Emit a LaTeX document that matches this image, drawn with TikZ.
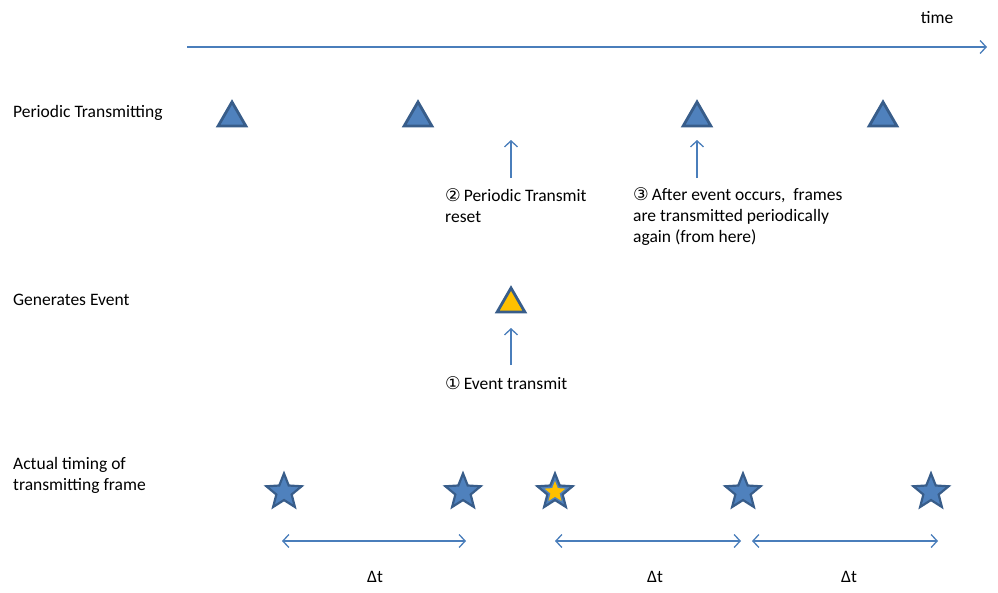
\documentclass[tikz,border=0pt]{standalone}
\usepackage{fontspec}
\setmainfont{Carlito}
\newfontfamily\circfont{DejaVu Sans}
\usetikzlibrary{arrows.meta, shapes.geometric}

\definecolor{triblue}{HTML}{4F81BD}
\definecolor{triedge}{HTML}{385D8A}
\definecolor{evyellow}{HTML}{FFC000}
\definecolor{linecol}{HTML}{4A7EBB}

\begin{document}
\begin{tikzpicture}[x=1pt, y=-1pt,
    every node/.style={font=\fontsize{17.5}{21}\selectfont, inner sep=0pt},
    lbl/.style={anchor=west, align=left},
    tri/.style={regular polygon, regular polygon sides=3, minimum size=32pt, draw=triedge, line width=2.8pt, fill=triblue},
    evtri/.style={tri, fill=evyellow},
    frm/.style={star, star points=5, star point ratio=2.3, minimum size=37pt, draw=triedge, line width=2.2pt, fill=triblue},
    frmcore/.style={star, star points=5, star point ratio=2.3, minimum size=22pt, fill=evyellow},
    arr/.style={-{Straight Barb[length=6pt, width=13pt]}, line width=1.3pt, linecol},
    span/.style={{Straight Barb[length=6pt, width=13pt]}-{Straight Barb[length=6pt, width=13pt]}, line width=1.3pt, linecol}]

  \useasboundingbox (0,0) rectangle (998,592);

  % time axis
  \coordinate (t0) at (187,47);
  \coordinate (t1) at (987,47);
  \draw[arr] (t0) -- (t1);
  \node (time) at (937,18) {time};

  % row labels
  \node[lbl] (lPer) at (13,113) {Periodic Transmitting};
  \node[lbl] (lEv)  at (13,300) {Generates Event};
  \node[lbl] (lAct) at (13,475) {Actual timing of\\transmitting frame};

  % periodic frames
  \node[tri] (p1) at (232,118) {};
  \node[tri] (p2) at (418,118) {};
  \node[tri] (p3) at (697,118) {};
  \node[tri] (p4) at (883,118) {};

  % event
  \node[evtri] (ev) at (511,304) {};

  % notes
  \coordinate (r0) at (511,178);
  \coordinate (r1) at (511,140);
  \draw[arr] (r0) -- (r1);
  \node[lbl] (nReset) at (445,206) {{\circfont ②}\,Periodic Transmit\\reset};

  \coordinate (a0) at (697,178);
  \coordinate (a1) at (697,140);
  \draw[arr] (a0) -- (a1);
  \node[lbl] (nAgain) at (633,217) {{\circfont ③}\,After event occurs,\ \ frames\\are transmitted periodically\\again (from here)};

  \coordinate (e0) at (511,365);
  \coordinate (e1) at (511,328);
  \draw[arr] (e0) -- (e1);
  \node[lbl] (nEv) at (445,383) {{\circfont ①}\,Event transmit};

  % actual frames
  \node[frm] (f1) at (284,492) {};
  \node[frm] (f2) at (463,492) {};
  \node[frm] (f3) at (555,492) {};
  \node[frmcore] (f3core) at (f3.center) {};
  \node[frm] (f4) at (743,492) {};
  \node[frm] (f5) at (931,492) {};

  % intervals
  \coordinate (d1a) at (282,541);
  \coordinate (d1b) at (466,541);
  \coordinate (d2a) at (555,541);
  \coordinate (d2b) at (741,541);
  \coordinate (d3a) at (752,541);
  \coordinate (d3b) at (938,541);
  \draw[span] (d1a) -- (d1b);
  \draw[span] (d2a) -- (d2b);
  \draw[span] (d3a) -- (d3b);
  \node (dt1) at (375,577) {Δt};
  \node (dt2) at (655,577) {Δt};
  \node (dt3) at (849,577) {Δt};
\end{tikzpicture}
\end{document}
